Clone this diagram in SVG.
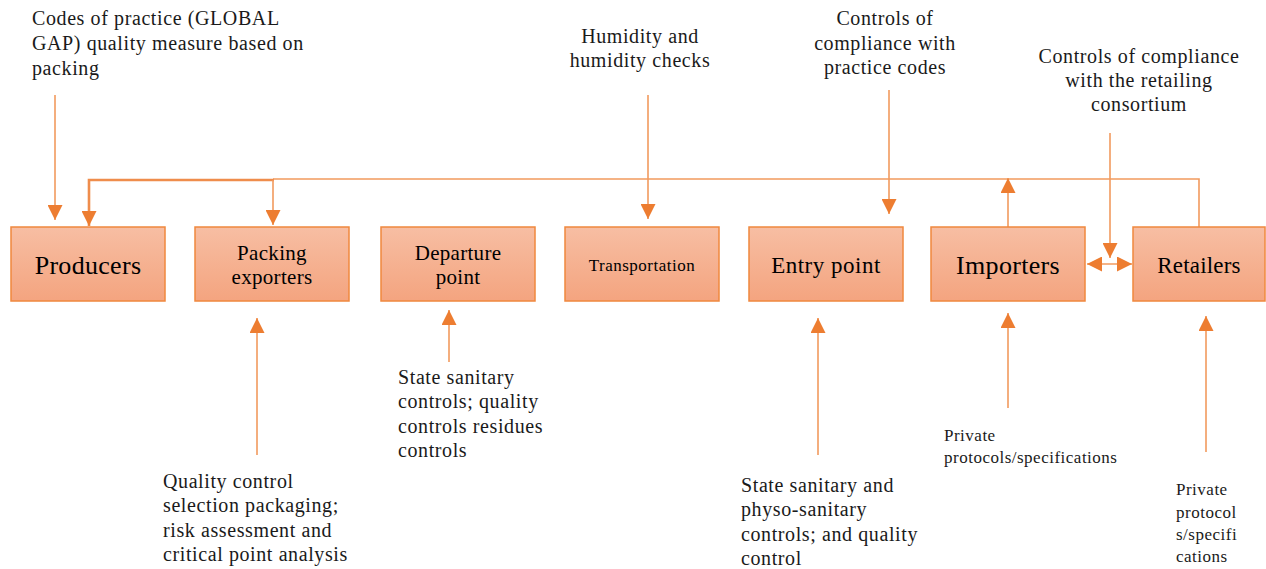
<svg xmlns="http://www.w3.org/2000/svg" width="1266" height="569" viewBox="0 0 1266 569">
<style>
.box{fill:url(#g);stroke:#f0883e;stroke-width:1.5}
text{font-family:'Liberation Serif',Tinos,'Times New Roman','DejaVu Serif','Noto Serif',serif}
.lbl{fill:#000;text-anchor:middle}
.t{fill:#1a1a1a;font-size:20px;letter-spacing:0.6px}
.s{fill:#1a1a1a;font-size:17px;letter-spacing:0.5px}
.c{stroke:#f29a5e;stroke-width:1.6;fill:none}
.ah{fill:#ed7d31}
</style>
<defs>
<linearGradient id="g" x1="0" y1="0" x2="0" y2="1">
<stop offset="0" stop-color="#f7bea3"/>
<stop offset="1" stop-color="#f4a47f"/>
</linearGradient>
<marker id="b" viewBox="0 0 10 10" refX="10" refY="5" markerWidth="15" markerHeight="15" markerUnits="userSpaceOnUse" orient="auto-start-reverse">
<path d="M0,0 L10,5 L0,10 z" class="ah"/>
</marker>
</defs>

<g id="connectors">
<path class="c" d="M55,95 V220" marker-end="url(#b)"/>
<path class="c" d="M1199,227 V179 H273"/>
<path class="c" style="stroke-width:2.6;stroke:#ef8d4c" d="M274,180 H89 V226" marker-end="url(#b)"/>
<path class="c" d="M273,180 V225" marker-end="url(#b)"/>
<path class="c" d="M1008,227 V178" marker-end="url(#b)"/>
<path class="c" d="M648,95 V219" marker-end="url(#b)"/>
<path class="c" d="M889,90 V214" marker-end="url(#b)"/>
<path class="c" d="M1110,133 V258" marker-end="url(#b)"/>
<path class="c" d="M1087,264 H1132" marker-start="url(#b)" marker-end="url(#b)"/>
<path class="c" d="M257,455 V318" marker-end="url(#b)"/>
<path class="c" d="M449,362 V310" marker-end="url(#b)"/>
<path class="c" d="M818,455 V318" marker-end="url(#b)"/>
<path class="c" d="M1008,408 V313" marker-end="url(#b)"/>
<path class="c" d="M1206,452 V316" marker-end="url(#b)"/>
</g>

<g id="producers">
<rect class="box" x="11" y="227" width="154" height="74"/>
<text class="lbl" x="88" y="274" font-size="26" letter-spacing="0.3">Producers</text>
</g>
<g id="packing-exporters">
<rect class="box" x="195" y="227" width="154" height="74"/>
<text class="lbl" x="272" y="260" font-size="21" letter-spacing="0.3">Packing</text>
<text class="lbl" x="272" y="284" font-size="21" letter-spacing="0.3">exporters</text>
</g>
<g id="departure-point">
<rect class="box" x="381" y="227" width="154" height="74"/>
<text class="lbl" x="458" y="260" font-size="21" letter-spacing="0.3">Departure</text>
<text class="lbl" x="458" y="284" font-size="21" letter-spacing="0.3">point</text>
</g>
<g id="transportation">
<rect class="box" x="565" y="227" width="154" height="74"/>
<text class="lbl" x="642" y="271" font-size="17" letter-spacing="0.5">Transportation</text>
</g>
<g id="entry-point">
<rect class="box" x="749" y="227" width="154" height="74"/>
<text class="lbl" x="826" y="273" font-size="23" letter-spacing="0.5">Entry point</text>
</g>
<g id="importers">
<rect class="box" x="931" y="227" width="154" height="74"/>
<text class="lbl" x="1008" y="274" font-size="26" letter-spacing="0.3">Importers</text>
</g>
<g id="retailers">
<rect class="box" x="1133" y="227" width="132" height="74"/>
<text class="lbl" x="1199" y="273" font-size="23" letter-spacing="0.2">Retailers</text>
</g>

<g id="label-codes">
<text class="t" x="32" y="25">Codes of practice (GLOBAL</text>
<text class="t" x="32" y="50">GAP) quality measure based on</text>
<text class="t" x="32" y="75">packing</text>
</g>
<g id="label-humidity">
<text class="t" x="640" y="43" text-anchor="middle">Humidity and</text>
<text class="t" x="640" y="67" text-anchor="middle">humidity checks</text>
</g>
<g id="label-controls-practice">
<text class="t" x="885" y="25" text-anchor="middle">Controls of</text>
<text class="t" x="885" y="50" text-anchor="middle">compliance with</text>
<text class="t" x="885" y="74" text-anchor="middle">practice codes</text>
</g>
<g id="label-controls-retail">
<text class="t" x="1139" y="63" text-anchor="middle">Controls of compliance</text>
<text class="t" x="1139" y="87" text-anchor="middle">with the retailing</text>
<text class="t" x="1139" y="111" text-anchor="middle">consortium</text>
</g>
<g id="label-quality">
<text class="t" x="163" y="488">Quality control</text>
<text class="t" x="163" y="512">selection packaging;</text>
<text class="t" x="163" y="537">risk assessment and</text>
<text class="t" x="163" y="561">critical point analysis</text>
</g>
<g id="label-state">
<text class="t" x="398" y="384">State sanitary</text>
<text class="t" x="398" y="408">controls; quality</text>
<text class="t" x="398" y="433">controls residues</text>
<text class="t" x="398" y="457">controls</text>
</g>
<g id="label-state2">
<text class="t" x="741" y="492">State sanitary and</text>
<text class="t" x="741" y="516">physo-sanitary</text>
<text class="t" x="741" y="541">controls; and quality</text>
<text class="t" x="741" y="565">control</text>
</g>
<g id="label-private1">
<text class="s" x="944" y="441">Private</text>
<text class="s" x="944" y="463">protocols/specifications</text>
</g>
<g id="label-private2">
<text class="s" x="1176" y="495">Private</text>
<text class="s" x="1176" y="518">protocol</text>
<text class="s" x="1176" y="540">s/specifi</text>
<text class="s" x="1176" y="562">cations</text>
</g>
</svg>
